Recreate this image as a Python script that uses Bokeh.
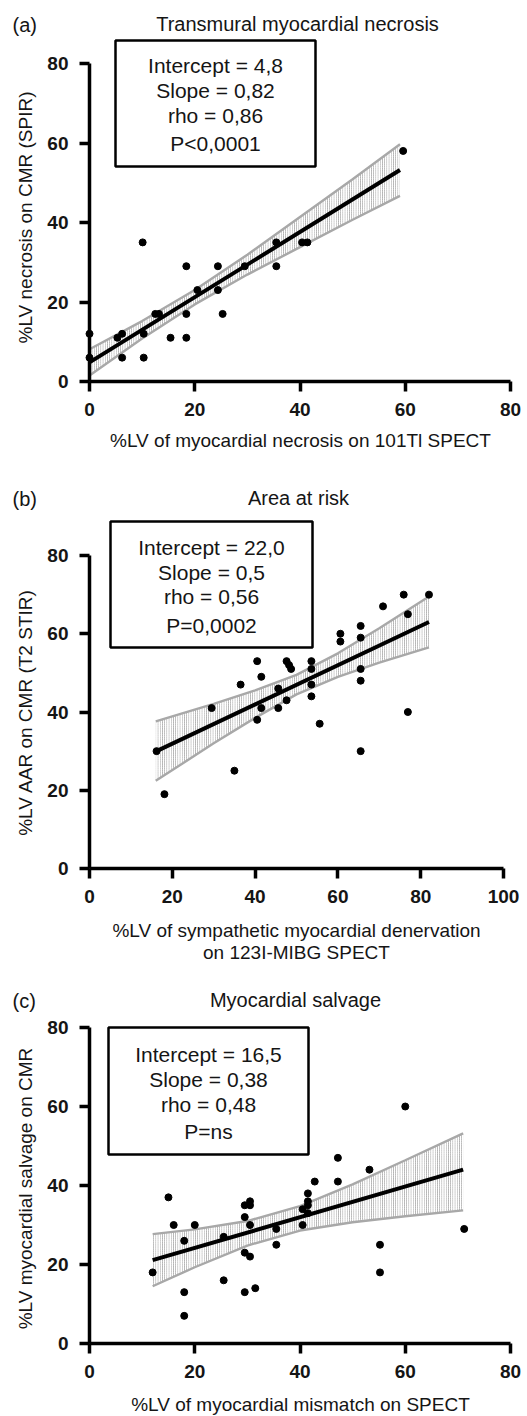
from bokeh.plotting import figure
from bokeh.models import Range1d, FixedTicker, Label
from bokeh.layouts import column
from bokeh.embed import file_html
from bokeh.resources import INLINE

# ---------------- data ----------------
# (a) Transmural myocardial necrosis
a_x = [0, 0, 5.3, 6.2, 6.2, 10.3, 10.1, 10.3, 12.5, 13.2, 15.4, 18.4, 18.4, 18.4,
       20.5, 24.4, 24.4, 25.3, 29.5, 35.5, 35.5, 40.4, 41.4, 59.6]
a_y = [6, 12, 11, 12, 6, 12, 35, 6, 17, 17, 11, 29, 17, 11,
       23, 29, 23, 17, 29, 29, 35, 35, 35, 58]
a_fit_x = [0, 59]
a_fit_y = [4.8, 53.2]
a_band_x = [0, 10, 20, 30, 40, 50, 59]
a_band_hi = [8.1, 15.2, 23.0, 31.9, 41.4, 50.9, 59.7]
a_band_lo = [1.5, 10.8, 19.4, 26.9, 33.8, 40.7, 46.7]
a_stats = ["Intercept = 4,8", "Slope = 0,82", "rho = 0,86", "P<0,0001"]

# (b) Area at risk
b_x = [16.2, 18.1, 29.5, 35, 36.5, 40.5, 40.5, 41.5, 41.5, 45.6, 45.6, 47.6, 48.2,
       48.7, 47.6, 53.6, 53.6, 53.6, 53.6, 55.6, 60.6, 60.6, 65.5, 65.5, 65.5, 65.5,
       65.5, 70.9, 75.9, 76.9, 76.9, 82]
b_y = [30, 19, 41, 25, 47, 53, 38, 49, 41, 46, 41, 53, 52,
       51, 43, 53, 51, 47, 44, 37, 60, 58, 62, 59, 51, 48,
       30, 67, 70, 65, 40, 70]
b_fit_x = [16.2, 82]
b_fit_y = [30, 63]
b_band_x = [16, 30, 40, 50, 60, 70, 82]
b_band_hi = [37.6, 42.1, 45.5, 49.5, 55.0, 61.4, 69.5]
b_band_lo = [22.4, 32.0, 38.5, 44.5, 49.0, 52.6, 56.5]
b_stats = ["Intercept = 22,0", "Slope = 0,5", "rho = 0,56", "P=0,0002"]

# (c) Myocardial salvage
c_x = [12, 15, 16, 18, 18, 18, 20, 25.5, 25.5, 29.5, 29.5, 29.5, 29.5, 30.5, 30.5,
       30.5, 30.5, 31.5, 35.5, 35.5, 40.5, 40.5, 41.5, 41.5, 41.5, 41.5, 42.8, 47.2,
       47.2, 53.2, 55.2, 55.2, 60, 71.2]
c_y = [18, 37, 30, 26, 13, 7, 30, 27, 16, 35, 32, 23, 13, 36, 35,
       30, 22, 14, 29, 25, 34, 30, 38, 36, 35, 33, 41, 47,
       41, 44, 25, 18, 60, 29]
c_fit_x = [12, 71]
c_fit_y = [21.1, 44]
c_band_x = [12, 20, 30, 40, 50, 60, 71]
c_band_hi = [27.7, 28.9, 31.0, 34.8, 40.3, 46.4, 53.2]
c_band_lo = [14.5, 19.3, 24.8, 28.6, 30.7, 32.2, 33.7]
c_stats = ["Intercept = 16,5", "Slope = 0,38", "rho = 0,48", "P=ns"]

y_ticks = [0, 20, 40, 60, 80]
x_ticks_80 = [0, 20, 40, 60, 80]
x_ticks_100 = [0, 20, 40, 60, 80, 100]

SANS = "Liberation Sans"
TXT = "#151515"
W = 527


def make_panel(top, H, x0px, x1px, xmax, y0px, y80px, xticks, xs, ys, fit_x, fit_y,
               band_x, band_lo, band_hi, stats, tag, title, title_pos,
               box, stat_ys, stat_cx, ylabel, ylabel_py, xlabels):
    # positions given in page pixels; the figure starts at page y = top
    sx = (x1px - x0px) / xmax
    sy = (y0px - y80px) / 80.0
    fb = y0px - top

    def X(px):
        return (px - x0px) / sx

    def Y(py):
        return (fb - (py - top)) / sy

    p = figure(width=W, height=H, x_range=Range1d(X(0), X(W)),
               y_range=Range1d(Y(top + H), Y(top)),
               min_border_left=0, min_border_right=0, min_border_top=0,
               min_border_bottom=0, toolbar_location=None, output_backend="svg",
               title=None)
    p.outline_line_color = None
    p.grid.visible = False
    p.background_fill_color = "white"

    for ax in (p.xaxis[0], p.yaxis[0]):
        ax.fixed_location = 0
        ax.axis_line_width = 3.5
        ax.axis_line_color = "black"
        ax.major_tick_line_width = 3.5
        ax.major_tick_line_color = "black"
        ax.major_tick_out = 10
        ax.major_tick_in = 0
        ax.minor_tick_line_color = None
        ax.major_label_text_font = SANS
        ax.major_label_text_font_style = "bold"
        ax.major_label_text_font_size = "19px"
        ax.major_label_text_color = TXT
    p.xaxis[0].ticker = FixedTicker(ticks=xticks)
    p.xaxis[0].bounds = (0, xmax)
    p.xaxis[0].major_label_standoff = 11
    p.yaxis[0].ticker = FixedTicker(ticks=y_ticks)
    p.yaxis[0].bounds = (0, 80)
    p.yaxis[0].major_label_standoff = 11

    # confidence band
    p.varea(x=band_x, y1=band_lo, y2=band_hi, fill_color="white", fill_alpha=0.0,
            hatch_pattern="vertical_line", hatch_color="#7a7a7a", hatch_weight=0.8,
            hatch_scale=2.2, hatch_alpha=0.9)
    p.line(band_x, band_lo, line_color="#a8a8a8", line_width=2.4)
    p.line(band_x, band_hi, line_color="#a8a8a8", line_width=2.4)
    # regression line
    p.line(fit_x, fit_y, line_color="black", line_width=4)
    # points
    p.scatter(xs, ys, size=7, color="black")

    # stats box
    l, t, r, b = box
    p.quad(left=[X(l)], right=[X(r)], top=[Y(t)], bottom=[Y(b)], fill_color=None,
           line_color="black", line_width=2.5)
    for s, yy in zip(stats, stat_ys):
        p.add_layout(Label(x=X(stat_cx), y=Y(yy), text=s, text_font=SANS,
                           text_font_size="21px", text_align="center",
                           text_baseline="middle", text_color=TXT))

    p.add_layout(Label(x=X(title_pos[0]), y=Y(title_pos[1]), text=title, text_font=SANS,
                       text_font_size="20px", text_align="center",
                       text_baseline="middle", text_color=TXT))
    p.add_layout(Label(x=X(12), y=Y(title_pos[1] + 1), text=tag, text_font=SANS,
                       text_font_size="20px", text_align="left",
                       text_baseline="middle", text_color=TXT))
    p.add_layout(Label(x=X(25), y=Y(ylabel_py), text=ylabel, text_font=SANS,
                       text_font_size="19px", text_align="center",
                       text_baseline="middle", angle=90, angle_units="deg",
                       text_color=TXT))
    for txt, (px, py) in xlabels:
        p.add_layout(Label(x=X(px), y=Y(py), text=txt, text_font=SANS,
                           text_font_size="19px", text_align="center",
                           text_baseline="middle", text_color=TXT))
    return p


fa = make_panel(0, 470, 89, 510, 80, 381, 63, x_ticks_80, a_x, a_y, a_fit_x, a_fit_y,
                a_band_x, a_band_lo, a_band_hi, a_stats, "(a)",
                "Transmural myocardial necrosis", (297, 23),
                (115, 40, 315, 166), [65, 90, 115, 143], 215,
                "%LV necrosis on CMR (SPIR)", 217,
                [("%LV of myocardial necrosis on 101Tl SPECT", (300, 440))])

fb_ = make_panel(470, 505, 89, 503, 100, 868, 555, x_ticks_100, b_x, b_y, b_fit_x,
                 b_fit_y, b_band_x, b_band_lo, b_band_hi, b_stats, "(b)",
                 "Area at risk", (298, 497),
                 (110, 521, 312, 647), [547, 572, 596, 625], 211,
                 "%LV AAR on CMR (T2 STIR)", 712,
                 [("%LV of sympathetic myocardial denervation", (296, 930)),
                  ("on 123I-MIBG SPECT", (296, 952))])

fc = make_panel(975, 441, 89, 510, 80, 1343, 1027, x_ticks_80, c_x, c_y, c_fit_x,
                c_fit_y, c_band_x, c_band_lo, c_band_hi, c_stats, "(c)",
                "Myocardial salvage", (295, 999),
                (108, 1027, 308, 1154), [1054, 1079, 1104, 1131], 208,
                "%LV myocardial salvage on CMR", 1188,
                [("%LV of myocardial mismatch on SPECT", (300, 1404))])

layout = column(fa, fb_, fc)
open("out.html", "w").write(file_html(layout, INLINE))
